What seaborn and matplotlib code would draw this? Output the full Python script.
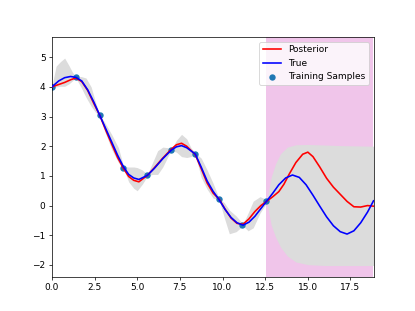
"""GP regression plot: posterior vs true function with uncertainty band."""
import numpy as np
import matplotlib
matplotlib.use("Agg")
import matplotlib.pyplot as plt
import seaborn as sns

# Training samples
x_train = [0.0, 1.396, 2.793, 4.189, 5.585, 6.981, 8.378, 9.774, 11.170, 12.566]
y_train = [4.0, 4.32, 3.05, 1.28, 1.02, 1.88, 1.75, 0.22, -0.66, 0.15]

# True function
x_true = [0, 0.4, 0.75, 1.1, 1.4, 1.75, 2.1, 2.45, 2.8, 3.15, 3.5, 3.85, 4.2, 4.5, 4.8,
          5.1, 5.6, 6.0, 6.5, 7.0, 7.3, 7.6, 7.9, 8.4, 8.75, 9.1, 9.45, 9.8, 10.15, 10.5,
          10.85, 11.2, 11.55, 11.9, 12.25, 12.6, 12.95, 13.3, 13.7, 14.1, 14.5, 14.9, 15.3,
          15.7, 16.1, 16.5, 16.9, 17.3, 17.7, 18.1, 18.5, 18.85]
y_true = [4.0, 4.2, 4.31, 4.35, 4.32, 4.2, 3.9, 3.5, 3.05, 2.6, 2.15, 1.7, 1.3, 1.05, 0.93,
          0.88, 1.02, 1.25, 1.58, 1.87, 1.98, 2.02, 1.95, 1.74, 1.3, 0.83, 0.48, 0.2, -0.13, -0.4,
          -0.58, -0.66, -0.56, -0.36, -0.1, 0.16, 0.42, 0.7, 0.93, 1.03, 0.95, 0.7, 0.35,
          -0.02, -0.38, -0.68, -0.88, -0.96, -0.85, -0.58, -0.22, 0.16]

# Posterior mean
x_post = [0, 0.4, 0.75, 1.1, 1.4, 1.75, 2.1, 2.45, 2.8, 3.15, 3.5, 3.85, 4.2, 4.5, 4.8,
          5.1, 5.6, 6.0, 6.5, 7.0, 7.3, 7.6, 7.9, 8.4, 8.75, 9.1, 9.45, 9.8, 10.15, 10.5,
          10.85, 11.2, 11.55, 11.9, 12.25, 12.6, 12.95, 13.3, 13.6, 13.9, 14.3, 14.7, 15.0,
          15.3, 15.7, 16.1, 16.5, 16.9, 17.3, 17.7, 18.1, 18.5, 18.85]
y_post = [4.0, 4.08, 4.15, 4.24, 4.3, 4.18, 3.88, 3.45, 3.05, 2.55, 2.08, 1.62, 1.25, 0.98, 0.85,
          0.8, 1.02, 1.27, 1.6, 1.9, 2.05, 2.1, 2.0, 1.72, 1.25, 0.76, 0.42, 0.22, -0.12, -0.42,
          -0.6, -0.63, -0.45, -0.2, 0.0, 0.15, 0.3, 0.47, 0.72, 1.05, 1.45, 1.73, 1.8,
          1.65, 1.3, 0.92, 0.62, 0.38, 0.14, -0.04, -0.05, 0.0, -0.02]

# Uncertainty band
x_band = [0, 0.25, 0.5, 0.75, 1.0, 1.2, 1.4, 1.7, 2.0, 2.3, 2.55, 2.8, 3.1, 3.5, 3.9, 4.2,
          4.5, 4.8, 5.0, 5.3, 5.6, 5.9, 6.2, 6.5, 6.8, 7.0, 7.3, 7.6, 7.9, 8.15, 8.4, 8.75,
          9.1, 9.45, 9.8, 10.1, 10.4, 10.8, 11.2, 11.5, 11.8, 12.2, 12.6, 12.85, 13.1, 13.4,
          13.8, 14.3, 15.0, 16.0, 17.0, 18.0, 18.85]
band_hi = [4.02, 4.7, 4.85, 4.97, 4.72, 4.5, 4.33, 4.35, 4.3, 4.0, 3.5, 3.07, 2.8, 2.4, 1.95, 1.32,
           1.3, 1.3, 1.28, 1.2, 1.05, 1.45, 1.85, 1.97, 1.95, 1.9, 2.2, 2.4, 2.25, 1.95, 1.77, 1.6,
           1.2, 0.75, 0.24, 0.1, -0.15, -0.35, -0.62, -0.25, 0.15, 0.3, 0.2, 0.95, 1.4, 1.75,
           1.97, 2.05, 2.06, 2.04, 2.02, 2.01, 2.0]
band_lo = [3.98, 4.0, 4.02, 4.02, 4.1, 4.2, 4.3, 4.0, 3.65, 3.35, 3.15, 3.03, 2.5, 1.9, 1.45, 1.25,
           0.8, 0.58, 0.5, 0.72, 1.0, 1.05, 1.05, 1.3, 1.65, 1.86, 1.8, 1.65, 1.62, 1.65, 1.72, 0.95,
           0.55, 0.25, 0.2, -0.4, -0.95, -0.88, -0.68, -0.85, -0.75, -0.25, 0.1, -0.65, -1.05, -1.4,
           -1.7, -1.9, -1.99, -2.02, -2.02, -2.02, -2.02]

extrap_start = 4 * np.pi
x_max = 6 * np.pi

fig, ax = plt.subplots(figsize=(415 / 64.8, 311 / 64.8), dpi=64.8)

ax.axvspan(extrap_start, x_max, color="#f0c5ea", lw=0)
ax.fill_between(x_band, band_lo, band_hi, color="#dcdcdc", lw=0)

sns.scatterplot(x=x_train, y=y_train, ax=ax, color="C0", s=50, linewidth=0,
                label="Training Samples", zorder=2)
sns.lineplot(x=x_post, y=y_post, ax=ax, color="red", lw=1.8, label="Posterior", zorder=3)
sns.lineplot(x=x_true, y=y_true, ax=ax, color="blue", lw=1.8, label="True", zorder=3)

ax.set_xlim(0, x_max)
ax.set_ylim(-2.4, 5.67)

# legend order: lines first, then samples
handles, labels = ax.get_legend_handles_labels()
order = [labels.index(name) for name in ["Posterior", "True", "Training Samples"]]
ax.legend([handles[i] for i in order], [labels[i] for i in order], loc="upper right")

fig.savefig("out.png", dpi=64.8)
